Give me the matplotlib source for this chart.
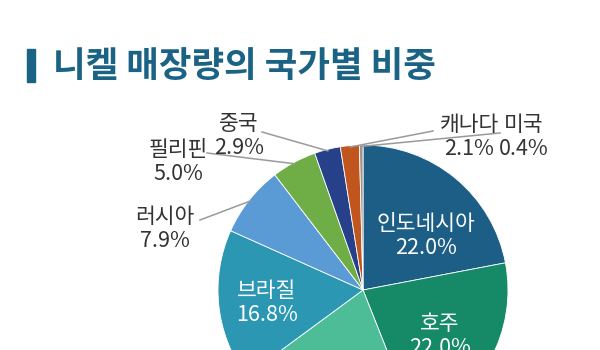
import numpy as np
import matplotlib.pyplot as plt

plt.rcParams['font.family'] = ['Noto Sans CJK KR', 'DejaVu Sans']

# nickel reserves share by country (%)
countries = ['인도네시아', '호주', '기타', '브라질', '러시아', '필리핀', '중국', '캐나다', '미국']
shares = [22.0, 22.0, 20.9, 16.8, 7.9, 5.0, 2.9, 2.1, 0.4]
colors = ['#1d5e87', '#168a66', '#4dbd98', '#2b97b3', '#5a9bd5',
          '#6fae47', '#26418a', '#c0561e', '#a09389']

inside = ['인도네시아', '호주', '브라질']
outside = ['러시아', '필리핀', '중국', '캐나다', '미국']

W, H = 600, 350
cx, cy, R = 363, 290, 145   # pie centre / radius in pixels


def px(x, y):
    # pixel position (from top-left) -> data units of the pie
    return (x - cx) / R, (cy - y) / R


fig = plt.figure(figsize=(6, 3.5), dpi=100)
ax = fig.add_axes([0, 0, 1, 1])
wedges, _ = ax.pie(shares, colors=colors, startangle=90, counterclock=False,
                   radius=1, wedgeprops=dict(edgecolor='white', linewidth=0.6))
ax.set_aspect('auto')
ax.set_xlim(-cx / R, (W - cx) / R)
ax.set_ylim(-(H - cy) / R, cy / R)
ax.axis('off')

# labels inside the big slices
inside_pos = {'인도네시아': (426, 236), '호주': (440, 336), '브라질': (267, 303)}
for name in inside:
    v = shares[countries.index(name)]
    ax.text(*px(*inside_pos[name]), f'{name}\n{v:.1f}%', color='white',
            fontsize=15.5, ha='center', va='center', linespacing=1.15)

# outside labels with leader lines to the slice edge
text_pos = {'러시아': (165, 229), '필리핀': (178, 162), '중국': (239, 136),
            '캐나다': (469, 137), '미국': (524, 137)}
line_start = {'러시아': (200, 220), '필리핀': (207, 153), '중국': (262, 132),
              '캐나다': (433, 131), '미국': (500, 133)}
for name in outside:
    i = countries.index(name)
    w = wedges[i]
    mid = np.deg2rad((w.theta1 + w.theta2) / 2)
    ex, ey = np.cos(mid) * 0.99, np.sin(mid) * 0.99
    sx, sy = px(*line_start[name])
    ax.plot([sx, ex], [sy, ey], color='#9a9a9a', lw=1.1, zorder=3)
    ax.text(*px(*text_pos[name]), f'{name}\n{shares[i]:.1f}%', color='#333333',
            fontsize=15.5, ha='center', va='center', linespacing=1.15, zorder=4)

# title with accent bar
fig.patches.append(plt.Rectangle((27 / W, 1 - 82 / H), 8 / W, 33 / H,
                                 transform=fig.transFigure, color='#1a6384'))
fig.text(53 / W, 1 - 66 / H, '니켈 매장량의 국가별 비중', color='#1a6384',
         fontsize=25.5, fontweight='bold', ha='left', va='center')

fig.savefig('out.png', dpi=100)
